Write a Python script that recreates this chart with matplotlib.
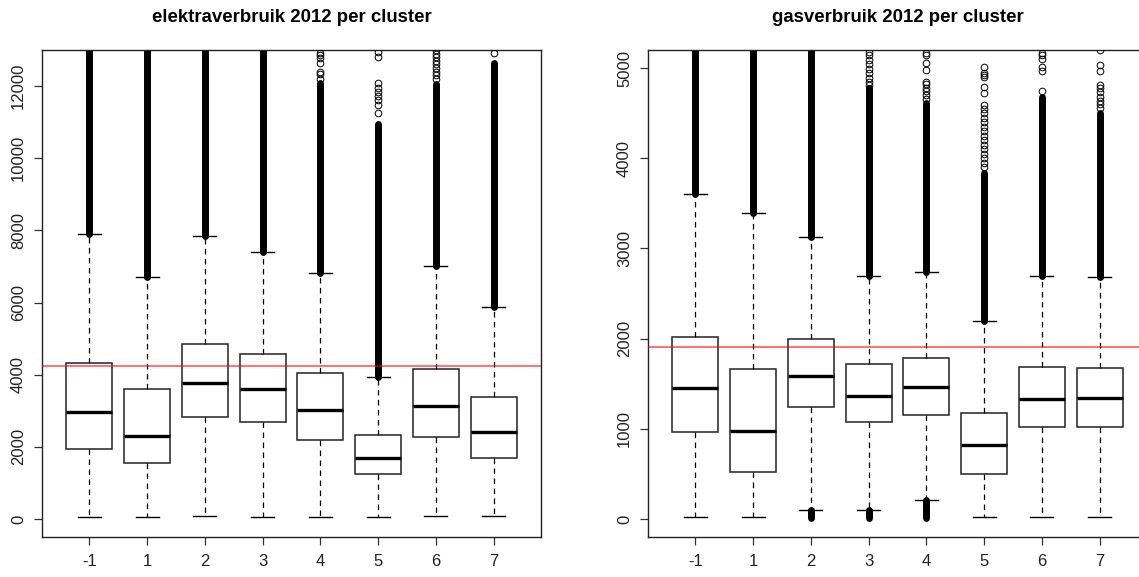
import matplotlib
matplotlib.use("Agg")
import matplotlib.pyplot as plt

plt.rcParams['font.family'] = ['Liberation Sans', 'DejaVu Sans']

clusters = ["-1", "1", "2", "3", "4", "5", "6", "7"]

# ---- elektraverbruik 2012 ----
el_q1 = [1945, 1552, 2827, 2697, 2199, 1247, 2273, 1700]
el_med = [2975, 2300, 3770, 3603, 3021, 1690, 3141, 2420]
el_q3 = [4324, 3594, 4840, 4564, 4037, 2319, 4166, 3372]
el_whislo = [47, 47, 75, 47, 47, 47, 75, 75]
el_whishi = [7900, 6707, 7853, 7400, 6827, 3945, 7022, 5876]
# dense (overlapping) upper outliers: from, to
el_dense_lo = [7900, 6707, 7853, 7400, 6827, 3945, 7022, 5876]
el_dense_hi = [13500, 13500, 13500, 13500, 12080, 10960, 12050, 12650]
# sparse outliers
el_sparse = [
    [],
    [],
    [],
    [],
    [12930, 12860, 12780, 12650, 12400, 12330, 12200],
    [12950, 12800, 12080, 11950, 11830, 11720, 11610, 11470, 11250],
    [12990, 12900, 12800, 12700, 12600, 12500, 12400, 12300, 12200],
    [12920],
]
el_ref = 4230

# ---- gasverbruik 2012 ----
gas_q1 = [968, 517, 1238, 1075, 1157, 499, 1020, 1020]
gas_med = [1449, 976, 1589, 1367, 1460, 820, 1330, 1341]
gas_q3 = [2018, 1667, 1999, 1718, 1789, 1179, 1689, 1678]
gas_whislo = [18, 18, 100, 100, 207, 18, 18, 18]
gas_whishi = [3603, 3389, 3130, 2698, 2742, 2198, 2698, 2680]
gas_dense_lo = [3603, 3389, 3130, 2698, 2742, 2198, 2698, 2680]
gas_dense_hi = [5400, 5400, 5400, 4780, 4610, 3840, 4680, 4500]
gas_low_dense_lo = [None, None, 15, 15, 15, None, None, None]
gas_low_dense_hi = [None, None, 100, 100, 207, None, None, None]
gas_sparse = [
    [],
    [],
    [],
    [5180, 5150, 5090, 5040, 4990, 4940, 4890, 4850, 4810],
    [5170, 5140, 5060, 4980, 4850, 4820, 4780, 4740, 4700, 4660],
    [5010, 4940, 4920, 4900, 4790, 4720, 4590, 4550, 4500, 4450, 4400, 4350,
     4300, 4250, 4200, 4150, 4100, 4050, 4000, 3950, 3900],
    [5170, 5140, 5100, 5010, 4970, 4750],
    [5195, 5030, 4970, 4810, 4780, 4730, 4680, 4640, 4600, 4560],
]
gas_ref = 1910

W, H = 1139, 577
fig = plt.figure(figsize=(W / 100, H / 100), dpi=100)

def px_axes(x0, x1, y0, y1):
    return fig.add_axes([x0 / W, 1 - y1 / H, (x1 - x0) / W, (y1 - y0) / H])

ax1 = px_axes(42, 541, 50, 537)
ax2 = px_axes(648, 1147, 50, 537)


def draw(ax, q1, med, q3, wlo, whi, dlo, dhi, sparse, ref, ylim, yticks, title,
         low_lo=None, low_hi=None):
    pos = list(range(1, len(clusters) + 1))
    stats = []
    for i in range(len(clusters)):
        stats.append(dict(med=med[i], q1=q1[i], q3=q3[i], whislo=wlo[i],
                          whishi=whi[i], fliers=sparse[i]))
    # dense outlier columns
    ax.vlines(pos, dlo, dhi, colors='black', linewidth=5.0,
              capstyle='round', zorder=2)
    if low_lo is not None:
        for p, a, b in zip(pos, low_lo, low_hi):
            if a is not None:
                ax.vlines([p], [a], [b], colors='black', linewidth=5.0,
                          capstyle='round', zorder=2)
    ax.bxp(stats, positions=pos, widths=0.8, capwidths=0.4, patch_artist=True,
           boxprops=dict(facecolor='white', edgecolor='#222222', linewidth=1.1),
           medianprops=dict(color='black', linewidth=2.4, solid_capstyle='butt'),
           whiskerprops=dict(color='black', linewidth=0.9,
                             linestyle=(0, (4.5, 3.5))),
           capprops=dict(color='black', linewidth=1.0),
           flierprops=dict(marker='o', markerfacecolor='none',
                           markeredgecolor='black', markersize=4.8,
                           markeredgewidth=0.7),
           zorder=3)
    ax.axhline(ref, color='#ff0000', alpha=0.65, linewidth=1.2, zorder=4)
    ax.set_xlim(0.18, 8.82)
    ax.set_ylim(*ylim)
    ax.set_xticks(pos)
    ax.set_xticklabels(clusters)
    ax.set_yticks(yticks)
    ax.set_yticklabels([str(t) for t in yticks], rotation=90, va='center')
    ax.tick_params(axis='both', direction='out', length=5.5, width=0.9,
                   colors='#333333', labelsize=12, labelcolor='#222222')
    ax.tick_params(axis='y', pad=6)
    ax.tick_params(axis='x', pad=7)
    for s in ax.spines.values():
        s.set_color('#222222')
        s.set_linewidth(1.0)
    ax.set_title(title, fontsize=13.4, fontweight='bold', pad=20)


draw(ax1, el_q1, el_med, el_q3, el_whislo, el_whishi, el_dense_lo, el_dense_hi,
     el_sparse, el_ref, (-500, 13000), list(range(0, 12001, 2000)),
     "elektraverbruik 2012 per cluster")
draw(ax2, gas_q1, gas_med, gas_q3, gas_whislo, gas_whishi, gas_dense_lo,
     gas_dense_hi, gas_sparse, gas_ref, (-200, 5200), list(range(0, 5001, 1000)),
     "gasverbruik 2012 per cluster", gas_low_dense_lo, gas_low_dense_hi)

fig.savefig("out.png", dpi=100)
